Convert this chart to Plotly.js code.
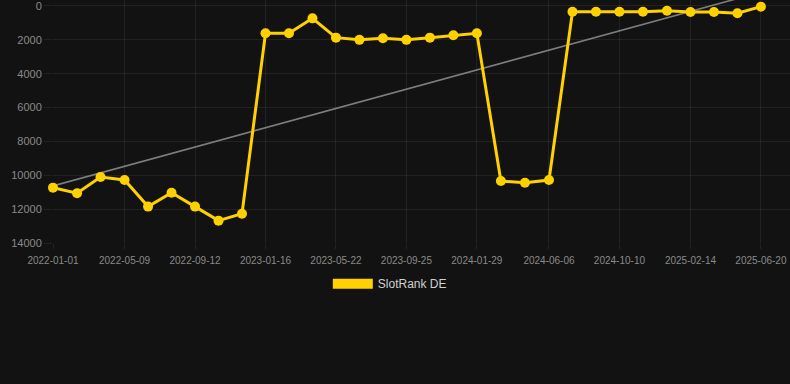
<!DOCTYPE html>
<html>
<head>
<meta charset="utf-8">
<script src="https://cdn.plot.ly/plotly-3.0.1.min.js"></script>
<style>
  html, body { margin: 0; padding: 0; background: #121212; }
  #chart { width: 790px; height: 384px; }
</style>
</head>
<body>
<div id="chart"></div>
<script>
// Data
const dates = [
  "2022-01-01", "2022-02-13", "2022-03-27", "2022-05-09", "2022-06-20", "2022-08-01",
  "2022-09-12", "2022-10-24", "2022-12-05", "2023-01-16", "2023-02-27", "2023-04-10",
  "2023-05-22", "2023-07-03", "2023-08-14", "2023-09-25", "2023-11-06", "2023-12-18",
  "2024-01-29", "2024-03-12", "2024-04-24", "2024-06-06", "2024-07-18", "2024-08-29",
  "2024-10-10", "2024-11-21", "2025-01-03", "2025-02-14", "2025-03-28", "2025-05-09",
  "2025-06-20"
];
const ranks = [
  10730, 11060, 10100, 10280, 11850, 11030,
  11850, 12680, 12270, 1610, 1610, 730,
  1870, 2000, 1910, 2000, 1870, 1730,
  1610, 10340, 10440, 10280, 340, 340,
  340, 340, 280, 350, 350, 430,
  40
];
const trendDates = ["2022-01-01", "2025-06-20"];
const trendValues = [10630, -820];
const tickDates = [
  "2022-01-01", "2022-05-09", "2022-09-12", "2023-01-16", "2023-05-22", "2023-09-25",
  "2024-01-29", "2024-06-06", "2024-10-10", "2025-02-14", "2025-06-20"
];
const yTicks = [0, 2000, 4000, 6000, 8000, 10000, 12000, 14000];
const seriesName = "SlotRank DE";

const gold = "#FFD100";
const gridCol = "rgba(255,255,255,0.07)";
const tickFontCol = "#8a8a8a";

const traces = [
  {
    x: trendDates, y: trendValues, type: "scatter", mode: "lines",
    line: { color: "#7d7d7d", width: 1.6 },
    showlegend: false, hoverinfo: "skip"
  },
  {
    x: dates, y: ranks, type: "scatter", mode: "lines+markers",
    line: { color: gold, width: 3 },
    marker: { color: gold, size: 10 },
    cliponaxis: false,
    showlegend: false
  },
  {
    x: [null], y: [null], type: "scatter", mode: "lines",
    name: seriesName,
    line: { color: gold, width: 11 },
    showlegend: true
  }
];

const layout = {
  width: 790, height: 384,
  paper_bgcolor: "#121212", plot_bgcolor: "#121212",
  margin: { l: 53, r: 0, t: 0, b: 141, pad: 0 },
  font: { family: "Liberation Sans, Arial, sans-serif", color: tickFontCol },
  showlegend: true,
  xaxis: {
    type: "date",
    range: ["2022-01-01", "2025-08-11"],
    tickmode: "array",
    tickvals: tickDates,
    ticktext: tickDates,
    showgrid: true, gridcolor: gridCol, gridwidth: 1,
    ticks: "outside", ticklen: 5, tickcolor: gridCol,
    ticklabelstandoff: 3,
    tickfont: { size: 10, color: tickFontCol },
    zeroline: false, showline: false
  },
  yaxis: {
    range: [14000, -354],
    autorange: false,
    tickmode: "array",
    tickvals: yTicks,
    ticktext: yTicks.map(String),
    showgrid: true, gridcolor: gridCol, gridwidth: 1,
    ticks: "outside", ticklen: 8, tickcolor: gridCol,
    ticklabeloverflow: "allow",
    tickfont: { size: 11, color: tickFontCol },
    zeroline: false, showline: false
  },
  legend: {
    orientation: "h",
    x: 0.457, xanchor: "center",
    y: -0.108, yanchor: "top",
    font: { size: 12, color: "#d0d0d0" },
    bgcolor: "rgba(0,0,0,0)",
    itemwidth: 40
  }
};

Plotly.newPlot("chart", traces, layout, { displayModeBar: false, staticPlot: true });
</script>
</body>
</html>
